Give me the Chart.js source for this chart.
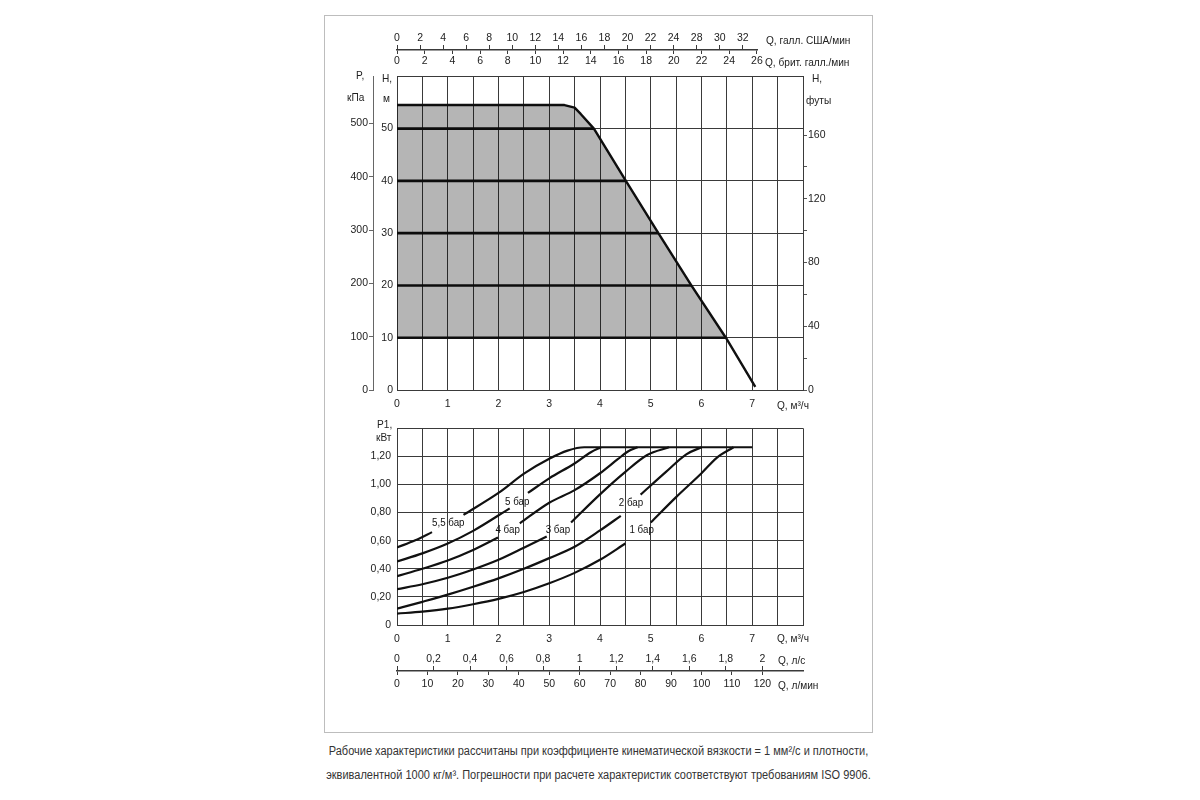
<!DOCTYPE html>
<html lang="ru">
<head>
<meta charset="utf-8">
<title>Рабочие характеристики насоса</title>
<script src="https://cdn.jsdelivr.net/npm/chart.js"></script>
<style>
  body { margin: 0; width: 1200px; height: 800px; position: relative; overflow: hidden; background: #fff;
         font-family: 'Liberation Sans', Arial, sans-serif; color: #222; }
  .frame { position: absolute; left: 324px; top: 15px; width: 547px; height: 716px; border: 1px solid #bdbdbd; }
  canvas { position: absolute; }
  .t { position: absolute; font-size: 11.5px; line-height: 12px; white-space: nowrap;
       transform: scaleX(0.88); transform-origin: left center; }
  .caption { position: absolute; left: 198px; width: 800px; text-align: center; font-size: 12.5px; line-height: 14px; color: #333; }
  .caption span { display: inline-block; white-space: nowrap; transform: scaleX(0.88); }
</style>
</head>
<body>
<div class="frame"></div>

<canvas id="gpm" width="530" height="49" style="left:330px; top:25px"></canvas>
<canvas id="head" width="530" height="352" style="left:330px; top:66px"></canvas>
<canvas id="power" width="530" height="237" style="left:330px; top:416px"></canvas>
<canvas id="flow" width="530" height="53" style="left:330px; top:644px"></canvas>

<span class="t" style="left:766px; top:34px">Q, галл. США/мин</span>
<span class="t" style="left:765px; top:56px">Q, брит. галл./мин</span>
<span class="t" style="left:356px; top:69px">P,</span>
<span class="t" style="left:347px; top:91px">кПа</span>
<span class="t" style="left:382px; top:72px">H,</span>
<span class="t" style="left:383px; top:92px">м</span>
<span class="t" style="left:812px; top:72px">H,</span>
<span class="t" style="left:806px; top:94px">футы</span>
<span class="t" style="left:777px; top:399px">Q, м³/ч</span>
<span class="t" style="left:377px; top:418px">P1,</span>
<span class="t" style="left:376px; top:431px">кВт</span>
<span class="t" style="left:777px; top:632px">Q, м³/ч</span>
<span class="t" style="left:778px; top:654px">Q, л/с</span>
<span class="t" style="left:778px; top:679px">Q, л/мин</span>

<div class="caption" style="top:744px"><span>Рабочие характеристики рассчитаны при коэффициенте кинематической вязкости = 1 мм²/с и плотности,</span></div>
<div class="caption" style="top:768px"><span>эквивалентной 1000 кг/м³. Погрешности при расчете характеристик соответствуют требованиям ISO 9906.</span></div>

<script>
// ---- data ----

// напор H (м) от подачи Q (м3/ч)
const headQ = [0, 3.3, 3.5, 3.62, 3.88, 4.51, 5.15, 5.8, 6.48, 7.06];
const headH = [54.5, 54.5, 54.0, 52.8, 50, 40, 30, 20, 10, 0.6];
// толстые линии внутри рабочей зоны
const bandH = [10, 20, 30, 40, 50];
const bandEndQ = [6.48, 5.8, 5.15, 4.51, 3.88];

// мощность P1 (кВт), null = разрыв под подписью
const q1bar = [0, 0.5, 1, 1.5, 2, 2.5, 3, 3.5, 4, 4.5, 4.75, 5.0, 5.5, 6.0, 6.3, 6.63];
const p1bar = [0.081, 0.095, 0.116, 0.148, 0.186, 0.235, 0.297, 0.371, 0.464, 0.58, null, 0.73, 0.91, 1.08, 1.19, 1.265];
const q2bar = [0, 0.5, 1, 1.5, 2, 2.5, 3, 3.5, 4, 4.41, 4.6, 4.8, 5.3, 5.7, 6.0];
const p2bar = [0.116, 0.165, 0.216, 0.272, 0.332, 0.40, 0.476, 0.557, 0.673, 0.777, null, 0.928, 1.09, 1.215, 1.265];
const q3bar = [0, 0.5, 1, 1.5, 2, 2.5, 2.95, 3.2, 3.43, 4.0, 4.5, 4.93, 5.36];
const p3bar = [0.255, 0.29, 0.336, 0.395, 0.464, 0.55, 0.63, null, 0.73, 0.93, 1.09, 1.21, 1.265];
const q4bar = [0, 0.5, 1, 1.5, 1.99, 2.2, 2.42, 3.0, 3.5, 4.0, 4.35, 4.55, 4.74];
const p4bar = [0.348, 0.40, 0.459, 0.534, 0.622, null, 0.724, 0.87, 0.96, 1.08, 1.18, 1.235, 1.265];
const q5bar = [0, 0.5, 1, 1.5, 2.22, 2.4, 2.58, 3.0, 3.49, 3.82, 4.02];
const p5bar = [0.452, 0.51, 0.58, 0.67, 0.83, null, 0.94, 1.044, 1.148, 1.23, 1.265];
const q55bar = [0, 0.36, 0.69, 1.0, 1.31, 2.0, 2.51, 3.0, 3.36, 3.69, 7.0];
const p55bar = [0.552, 0.603, 0.661, null, 0.784, 0.94, 1.079, 1.183, 1.241, 1.265, 1.265];

const curveNames = ['5,5 бар', '5 бар', '4 бар', '3 бар', '2 бар', '1 бар'];
const curveNameQ = [1.01, 2.37, 2.18, 3.17, 4.61, 4.82];
const curveNameP = [0.73, 0.88, 0.68, 0.68, 0.87, 0.68];

// ticks
const qTicks = [0, 0.5, 1, 1.5, 2, 2.5, 3, 3.5, 4, 4.5, 5, 5.5, 6, 6.5, 7, 7.5, 8];
const hTicks = [0, 10, 20, 30, 40, 50, 60];
const pTicks = [0, 100, 200, 300, 400, 500];
const ftTicks = [0, 20, 40, 60, 80, 100, 120, 140, 160];
const p1Ticks = [0, 0.2, 0.4, 0.6, 0.8, 1.0, 1.2, 1.4];
const usTicks = [0, 2, 4, 6, 8, 10, 12, 14, 16, 18, 20, 22, 24, 26, 28, 30];
const usLabels = ['0', '2', '4', '6', '8', '10', '12', '14', '16', '18', '20', '22', '24', '28', '30', '32'];
const ukTicks = [0, 2, 4, 6, 8, 10, 12, 14, 16, 18, 20, 22, 24, 26];
const lsTicks = [0, 0.2, 0.4, 0.6, 0.8, 1, 1.2, 1.4, 1.6, 1.8, 2];
const lmTicks = [0, 10, 20, 30, 40, 50, 60, 70, 80, 90, 100, 110, 120];

// ---- setup ----
const FONT = "'Liberation Sans', Arial, sans-serif";
Chart.defaults.font.family = FONT;
Chart.defaults.font.size = 10.5;
Chart.defaults.color = '#222';
Chart.defaults.animation = false;
Chart.defaults.plugins.legend.display = false;
Chart.defaults.plugins.tooltip.enabled = false;

const GRID = '#3a3a3a';
const QMAX = 8;          // м3/ч по ширине поля
const QSTRIP = 7.1;      // длина верхней шкалы галлонов
const fixW = w => s => { s.width = w; };
const fixH = h => s => { s.height = h; };
const useTicks = arr => s => { s.ticks = arr.map(v => ({ value: v })); };
const comma = v => String(v).replace('.', ',');
const pts = (xs, ys) => xs.map((x, i) => ({ x: x, y: ys[i] }));

const qAxis = {
  type: 'linear', min: 0, max: QMAX,
  afterBuildTicks: useTicks(qTicks), afterFit: fixH(28),
  ticks: { autoSkip: false, maxRotation: 0, padding: 8,
           callback: v => (Number.isInteger(v) && v < QMAX) ? String(v) : '' },
  grid: { color: GRID, drawTicks: false },
  border: { color: GRID }
};

// верхняя шкала: галлоны США / британские галлоны
new Chart(document.getElementById('gpm'), {
  type: 'line',
  data: { datasets: [] },
  options: {
    responsive: false,
    layout: { padding: { left: 67, right: 102.7, top: 4, bottom: 4 } },
    scales: {
      us: { type: 'linear', axis: 'x', position: 'top', min: 0, max: QSTRIP * 4.40287,
            afterBuildTicks: useTicks(usTicks), afterFit: fixH(20),
            ticks: { autoSkip: false, maxRotation: 0, padding: 1, callback: (v, i) => usLabels[i] },
            grid: { drawOnChartArea: false, tickLength: 4, color: GRID },
            border: { display: false } },
      uk: { type: 'linear', axis: 'x', position: 'bottom', min: 0, max: QSTRIP * 3.66615,
            afterBuildTicks: useTicks(ukTicks), afterFit: fixH(20),
            ticks: { autoSkip: false, maxRotation: 0, padding: 1 },
            grid: { drawOnChartArea: false, tickLength: 4, color: GRID },
            border: { color: GRID, width: 1.5 } },
      y: { display: false }
    }
  }
});

// напорная характеристика
const thick = { borderColor: '#111', pointRadius: 0, fill: false, xAxisID: 'x', yAxisID: 'y' };
new Chart(document.getElementById('head'), {
  type: 'line',
  data: {
    datasets: [
      { data: pts(headQ.slice(0, 9), headH.slice(0, 9)), fill: { value: 10 }, xAxisID: 'x', yAxisID: 'y',
        backgroundColor: 'rgba(0,0,0,0.29)', borderWidth: 0, pointRadius: 0, tension: 0 },
      ...bandH.map((h, i) => ({ ...thick, data: [{ x: 0, y: h }, { x: bandEndQ[i], y: h }], borderWidth: 2.6 })),
      { ...thick, data: pts(headQ, headH), borderWidth: 2.4, tension: 0, borderJoinStyle: 'round' }
    ]
  },
  options: {
    responsive: false,
    layout: { padding: { top: 7, left: 0, right: 0, bottom: 0 } },
    scales: {
      x: qAxis,
      y: { type: 'linear', position: 'left', weight: 0, min: 0, max: 60,
           afterBuildTicks: useTicks(hTicks), afterFit: fixW(24),
           ticks: { padding: 4, callback: v => v < 60 ? String(v) : '' },
           grid: { color: GRID, drawTicks: false },
           border: { color: GRID } },
      yP: { type: 'linear', position: 'left', weight: 10, min: 0, max: 60 * 9.80665,
            afterBuildTicks: useTicks(pTicks), afterFit: fixW(43),
            ticks: { padding: 1 },
            grid: { drawOnChartArea: false, tickLength: 4, color: '#666' },
            border: { color: '#666' } },
      yFt: { type: 'linear', position: 'right', min: 0, max: 60 / 0.3048,
             afterBuildTicks: useTicks(ftTicks), afterFit: fixW(57),
             ticks: { padding: 1, callback: v => v % 40 === 0 ? String(v) : '' },
             grid: { drawOnChartArea: false, tickLength: 4, color: '#555' },
             border: { color: GRID } }
    }
  }
});

// подписи кривых мощности
const curveLabels = {
  id: 'curveLabels',
  afterDatasetsDraw(chart) {
    const { ctx, scales } = chart;
    ctx.save();
    ctx.font = '11.5px ' + FONT;
    ctx.fillStyle = '#111';
    ctx.textAlign = 'center';
    ctx.textBaseline = 'middle';
    curveNames.forEach((t, i) => {
      ctx.save();
      ctx.translate(scales.x.getPixelForValue(curveNameQ[i]), scales.y.getPixelForValue(curveNameP[i]));
      ctx.scale(0.85, 1);
      ctx.fillText(t, 0, 0);
      ctx.restore();
    });
    ctx.restore();
  }
};

const curve = (q, p) => ({ data: pts(q, p), borderColor: '#111', borderWidth: 2.2, pointRadius: 0,
  fill: false, cubicInterpolationMode: 'monotone', spanGaps: false });

new Chart(document.getElementById('power'), {
  type: 'line',
  data: {
    datasets: [
      curve(q1bar, p1bar), curve(q2bar, p2bar), curve(q3bar, p3bar),
      curve(q4bar, p4bar), curve(q5bar, p5bar), curve(q55bar, p55bar)
    ]
  },
  options: {
    responsive: false,
    layout: { padding: { top: 7, left: 0, right: 57, bottom: 0 } },
    scales: {
      x: qAxis,
      y: { type: 'linear', position: 'left', min: 0, max: 1.4,
           afterBuildTicks: useTicks(p1Ticks), afterFit: fixW(67),
           ticks: { padding: 6, callback: v => v === 0 ? '0' : (v < 1.39 ? v.toFixed(2).replace('.', ',') : '') },
           grid: { color: GRID, drawTicks: false },
           border: { color: GRID } }
    }
  },
  plugins: [curveLabels]
});

// нижняя шкала: л/с и л/мин
new Chart(document.getElementById('flow'), {
  type: 'line',
  data: { datasets: [] },
  options: {
    responsive: false,
    layout: { padding: { left: 67, right: 57, top: 4, bottom: 4 } },
    scales: {
      ls: { type: 'linear', axis: 'x', position: 'top', min: 0, max: QMAX / 3.6,
            afterBuildTicks: useTicks(lsTicks), afterFit: fixH(22),
            ticks: { autoSkip: false, maxRotation: 0, padding: 1, callback: v => comma(v) },
            grid: { drawOnChartArea: false, tickLength: 4, color: GRID },
            border: { display: false } },
      lm: { type: 'linear', axis: 'x', position: 'bottom', min: 0, max: QMAX * 1000 / 60,
            afterBuildTicks: useTicks(lmTicks), afterFit: fixH(22),
            ticks: { autoSkip: false, maxRotation: 0, padding: 3 },
            grid: { drawOnChartArea: false, tickLength: 4, color: GRID },
            border: { color: GRID, width: 1.5 } },
      y: { display: false }
    }
  }
});
</script>
</body>
</html>
